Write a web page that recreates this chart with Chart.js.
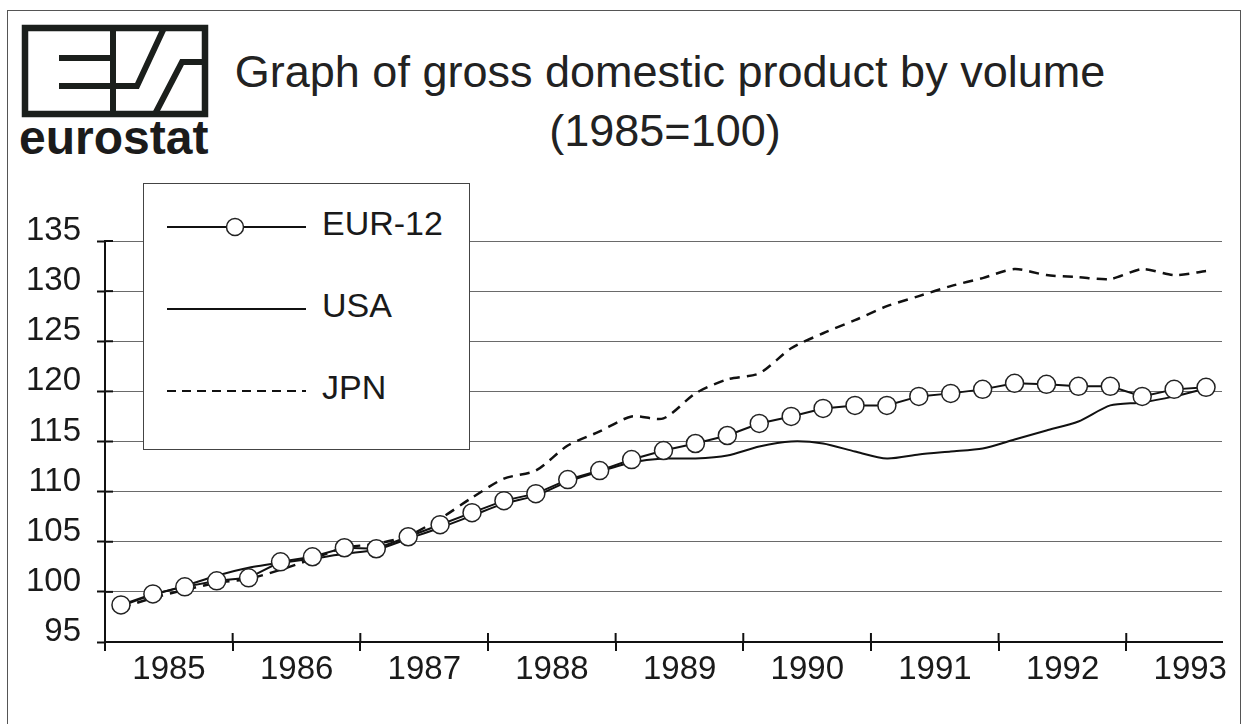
<!DOCTYPE html>
<html><head><meta charset="utf-8">
<script src="https://cdn.jsdelivr.net/npm/chart.js@4.4.1/dist/chart.umd.min.js"></script>
<style>
html,body{margin:0;padding:0;background:#fff;}
body{width:1243px;height:724px;position:relative;overflow:hidden;font-family:'Liberation Sans',Arial,sans-serif;color:#1a1a1a;}
#frame{position:absolute;left:7px;top:10px;width:1234px;height:740px;border:1.5px solid #555;box-sizing:border-box;}
#c{position:absolute;left:0;top:0;}
.t{position:absolute;white-space:nowrap;font-size:45px;line-height:45px;transform:translateX(-50%);color:#222;}
#eurostat{position:absolute;left:19px;top:114px;font-size:48px;line-height:48px;font-weight:bold;letter-spacing:0px;color:#1b1b1b;}
#legend{position:absolute;left:143px;top:183px;width:327px;height:267px;box-sizing:border-box;border:1.5px solid #444;background:#fff;padding-top:2px;}
.row{height:82px;display:flex;align-items:center;}
.row svg{margin-left:23px;flex:none;}
.row span{margin-left:15px;font-size:34px;line-height:40px;position:relative;top:-4px;color:#1a1a1a;}
</style></head>
<body>
<div id="frame"></div>
<svg width="230" height="170" style="position:absolute;left:0;top:0" viewBox="0 0 230 170">
<g fill="none" stroke="#1b1f1c" stroke-width="6" stroke-linejoin="miter" stroke-linecap="butt">
<rect x="25" y="28" width="180" height="86" stroke-width="6.5"/>
<line x1="59" y1="58" x2="113" y2="58"/>
<polyline points="59,86 137,86 164,28"/>
<line x1="113" y1="28" x2="113" y2="114"/>
<polyline points="155,114 182,62 205,62"/>
</g>
</svg>
<div id="eurostat">eurostat</div>
<div class="t" id="t1" style="left:670px;top:49px;">Graph of gross domestic product by volume</div>
<div class="t" id="t2" style="left:665px;top:108px;">(1985=100)</div>
<canvas id="c" width="1243" height="724"></canvas>
<div id="legend"></div>
<script>
// ---- data ----
const quarters = ['1985 Q1','1985 Q2','1985 Q3','1985 Q4','1986 Q1','1986 Q2','1986 Q3','1986 Q4',
  '1987 Q1','1987 Q2','1987 Q3','1987 Q4','1988 Q1','1988 Q2','1988 Q3','1988 Q4',
  '1989 Q1','1989 Q2','1989 Q3','1989 Q4','1990 Q1','1990 Q2','1990 Q3','1990 Q4',
  '1991 Q1','1991 Q2','1991 Q3','1991 Q4','1992 Q1','1992 Q2','1992 Q3','1992 Q4',
  '1993 Q1','1993 Q2','1993 Q3'];
const eur12 = [98.7, 99.8, 100.5, 101.1, 101.4, 103.0, 103.5, 104.4, 104.3, 105.5, 106.7, 107.9,
  109.1, 109.8, 111.2, 112.1, 113.2, 114.1, 114.8, 115.6, 116.8, 117.5, 118.3, 118.6,
  118.6, 119.5, 119.8, 120.2, 120.8, 120.7, 120.5, 120.5, 119.5, 120.2, 120.4];
const usa = [98.6, 99.7, 100.6, 101.6, 102.4, 102.9, 103.3, 103.8, 104.2, 105.3, 106.4, 107.6,
  108.8, 109.6, 111.0, 112.0, 112.9, 113.3, 113.3, 113.6, 114.5, 115.0, 114.8, 114.0,
  113.3, 113.7, 114.0, 114.3, 115.2, 116.1, 117.0, 118.6, 118.9, 119.5, 120.3];
const jpn = [98.4, 99.4, 100.2, 100.9, 101.3, 102.2, 103.3, 104.4, 104.8, 105.6, 107.3, 109.4,
  111.3, 112.1, 114.6, 116.0, 117.5, 117.3, 119.8, 121.2, 121.8, 124.3, 125.8, 127.1,
  128.5, 129.5, 130.5, 131.3, 132.2, 131.6, 131.4, 131.2, 132.2, 131.6, 132.0];
const yearTicks = [1985, 1986, 1987, 1988, 1989, 1990, 1991, 1992, 1993];
const yTicks = [95, 100, 105, 110, 115, 120, 125, 130, 135];
const seriesNames = ['EUR-12', 'USA', 'JPN'];

// quarter label -> position on the time axis (middle of the quarter)
function qpos(label){ const p = label.split(' Q'); return +p[0] + (+p[1] - 0.5) / 4; }
function pts(vals){ return quarters.map((q, i) => ({x: qpos(q), y: vals[i]})); }

const crossTicks = {
  id: 'crossTicks',
  afterDraw(chart){
    const ctx = chart.ctx, a = chart.chartArea, xs = chart.scales.x, ys = chart.scales.y;
    ctx.save();
    ctx.strokeStyle = '#111'; ctx.lineWidth = 2;
    xs.ticks.forEach(t => {
      const px = xs.getPixelForValue(t.value);
      ctx.beginPath(); ctx.moveTo(px, a.bottom - 9); ctx.lineTo(px, a.bottom); ctx.stroke();
    });
    ys.ticks.forEach(t => {
      const py = ys.getPixelForValue(t.value);
      ctx.beginPath(); ctx.moveTo(a.left, py); ctx.lineTo(a.left + 8, py); ctx.stroke();
    });
    ctx.restore();
  }
};

Chart.defaults.font.family = "'Liberation Sans', Arial, sans-serif";
Chart.defaults.color = '#1a1a1a';

const chart = new Chart(document.getElementById('c'), {
  type: 'line',
  data: {
    datasets: [
      {label: seriesNames[0], data: pts(eur12), borderColor: '#111', borderWidth: 2, tension: 0,
       pointRadius: 9, pointBackgroundColor: '#fff', pointBorderColor: '#222', pointBorderWidth: 1.5},
      {label: seriesNames[1], data: pts(usa), borderColor: '#111', borderWidth: 2, tension: 0.25, pointRadius: 0},
      {label: seriesNames[2], data: pts(jpn), borderColor: '#111', borderWidth: 2.5, borderDash: [10, 7], tension: 0.25, pointRadius: 0}
    ]
  },
  options: {
    responsive: false, animation: false, devicePixelRatio: 1,
    clip: false,
    layout: {padding: {top: 241, right: 21, left: 0, bottom: 0}},
    plugins: {legend: {display: false}, tooltip: {enabled: false}, title: {display: false}},
    scales: {
      x: {
        type: 'linear', min: 1985, max: 1993.75,
        afterBuildTicks: s => { s.ticks = yearTicks.map(v => ({value: v})); },
        afterFit: s => { s.height = 82; },
        grid: {drawOnChartArea: false, drawTicks: true, tickLength: 9, color: '#111', lineWidth: 2},
        border: {color: '#111', width: 2},
        ticks: {font: {size: 33}, color: '#1a1a1a', padding: -1, labelOffset: 64, maxRotation: 0, autoSkip: false,
                callback: v => String(v)}
      },
      y: {
        min: 95, max: 135,
        afterBuildTicks: s => { s.ticks = yTicks.map(v => ({value: v})); },
        afterFit: s => { s.width = 105; },
        grid: {color: '#6a6a6a', lineWidth: 1, tickLength: 8, tickColor: '#111', tickWidth: 2},
        border: {color: '#111', width: 2},
        ticks: {font: {size: 33}, color: '#1a1a1a', padding: 16, labelOffset: -10}
      }
    }
  },
  plugins: [crossTicks]
});

// HTML legend built from the chart datasets
const lg = document.getElementById('legend');
chart.data.datasets.forEach((ds, i) => {
  const row = document.createElement('div'); row.className = 'row';
  let svg = '<svg width="140" height="30" viewBox="0 0 140 30">';
  const dash = ds.borderDash ? ' stroke-dasharray="9 6"' : '';
  svg += '<line x1="0" y1="15" x2="139" y2="15" stroke="#111" stroke-width="2"' + dash + '/>';
  if (ds.pointRadius) svg += '<circle cx="68" cy="15" r="8.5" fill="#fff" stroke="#222" stroke-width="1.5"/>';
  svg += '</svg>';
  row.innerHTML = svg + '<span>' + ds.label + '</span>';
  lg.appendChild(row);
});
</script>
</body></html>
